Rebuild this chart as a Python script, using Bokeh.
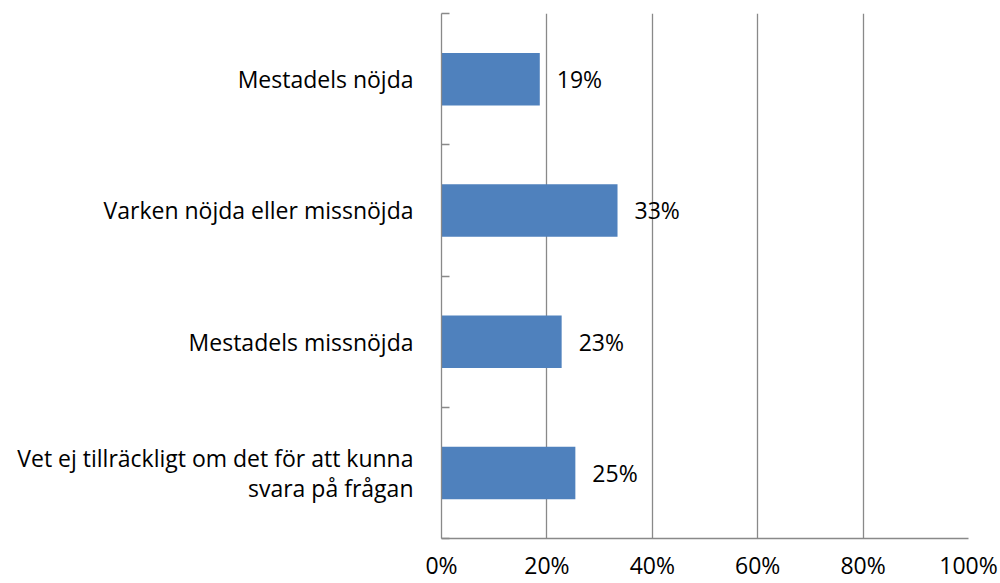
from bokeh.plotting import figure
from bokeh.models import (Range1d, LinearAxis, FixedTicker,
                          PrintfTickFormatter, ColumnDataSource)
from bokeh.core.properties import value
from bokeh.embed import file_html
from bokeh.resources import INLINE

categories = [
    "Mestadels nöjda",
    "Varken nöjda eller missnöjda",
    "Mestadels missnöjda",
    "Vet ej tillräckligt om det för att kunna\nsvara på frågan",
]
values = [18.65, 33.4, 22.8, 25.4]
value_labels = ["19%", "33%", "23%", "25%"]
x_ticks = [0, 20, 40, 60, 80, 100]

FONT = "Open Sans"
GRID = "#898989"
BAR = "#4F81BD"

n = len(categories)
# category slots: first category at the top
ypos = [n - i - 0.5 for i in range(n)]

src = ColumnDataSource(dict(y=ypos, vals=values, labs=value_labels))

p = figure(width=1000, height=583,
           y_range=Range1d(0, n),
           x_range=Range1d(0, 100),
           output_backend="svg", toolbar_location=None,
           y_axis_location=None,
           min_border_left=441, min_border_right=32,
           min_border_top=13, min_border_bottom=45)
p.outline_line_color = None
p.background_fill_color = "white"
p.border_fill_color = "white"

p.hbar(y="y", right="vals", left=0, height=0.4, source=src,
       fill_color=BAR, line_color=None)

p.text(x="vals", y="y", text="labs", source=src, x_offset=17,
       text_baseline="middle", text_align="left",
       text_font=value(FONT), text_font_size="23px", text_color="black")

# x axis
xa = p.xaxis[0]
xa.ticker = FixedTicker(ticks=x_ticks)
xa.formatter = PrintfTickFormatter(format="%d%%")
xa.major_tick_out = 0
xa.major_tick_in = 0
xa.minor_tick_line_color = None
xa.axis_line_color = GRID
xa.axis_line_width = 1.3
xa.major_label_standoff = 10
xa.major_label_text_font = FONT
xa.major_label_text_font_size = "23px"
xa.major_label_text_color = "black"

p.xgrid.ticker = FixedTicker(ticks=x_ticks)
p.xgrid.grid_line_color = GRID
p.xgrid.grid_line_width = 1.3
p.ygrid.grid_line_color = None

# boundary ticks axis (closest to the frame)
bound_axis = LinearAxis(ticker=FixedTicker(ticks=list(range(n + 1))),
                        major_tick_in=8, major_tick_out=0,
                        minor_tick_line_color=None,
                        major_label_overrides={i: "" for i in range(n + 1)},
                        major_label_standoff=0,
                        axis_line_color=GRID, axis_line_width=1.3,
                        major_tick_line_color=GRID, major_tick_line_width=1.3)
p.add_layout(bound_axis, "left")

# category label axis
cat_axis = LinearAxis(ticker=FixedTicker(ticks=ypos),
                      major_label_overrides={y: c for y, c in zip(ypos, categories)},
                      major_tick_line_color=None, minor_tick_line_color=None,
                      axis_line_color=None,
                      major_label_standoff=22,
                      major_label_text_font=FONT,
                      major_label_text_font_size="23px",
                      major_label_text_line_height=0.93,
                      major_label_text_color="black")
p.add_layout(cat_axis, "left")

open("out.html", "w").write(file_html(p, INLINE))
